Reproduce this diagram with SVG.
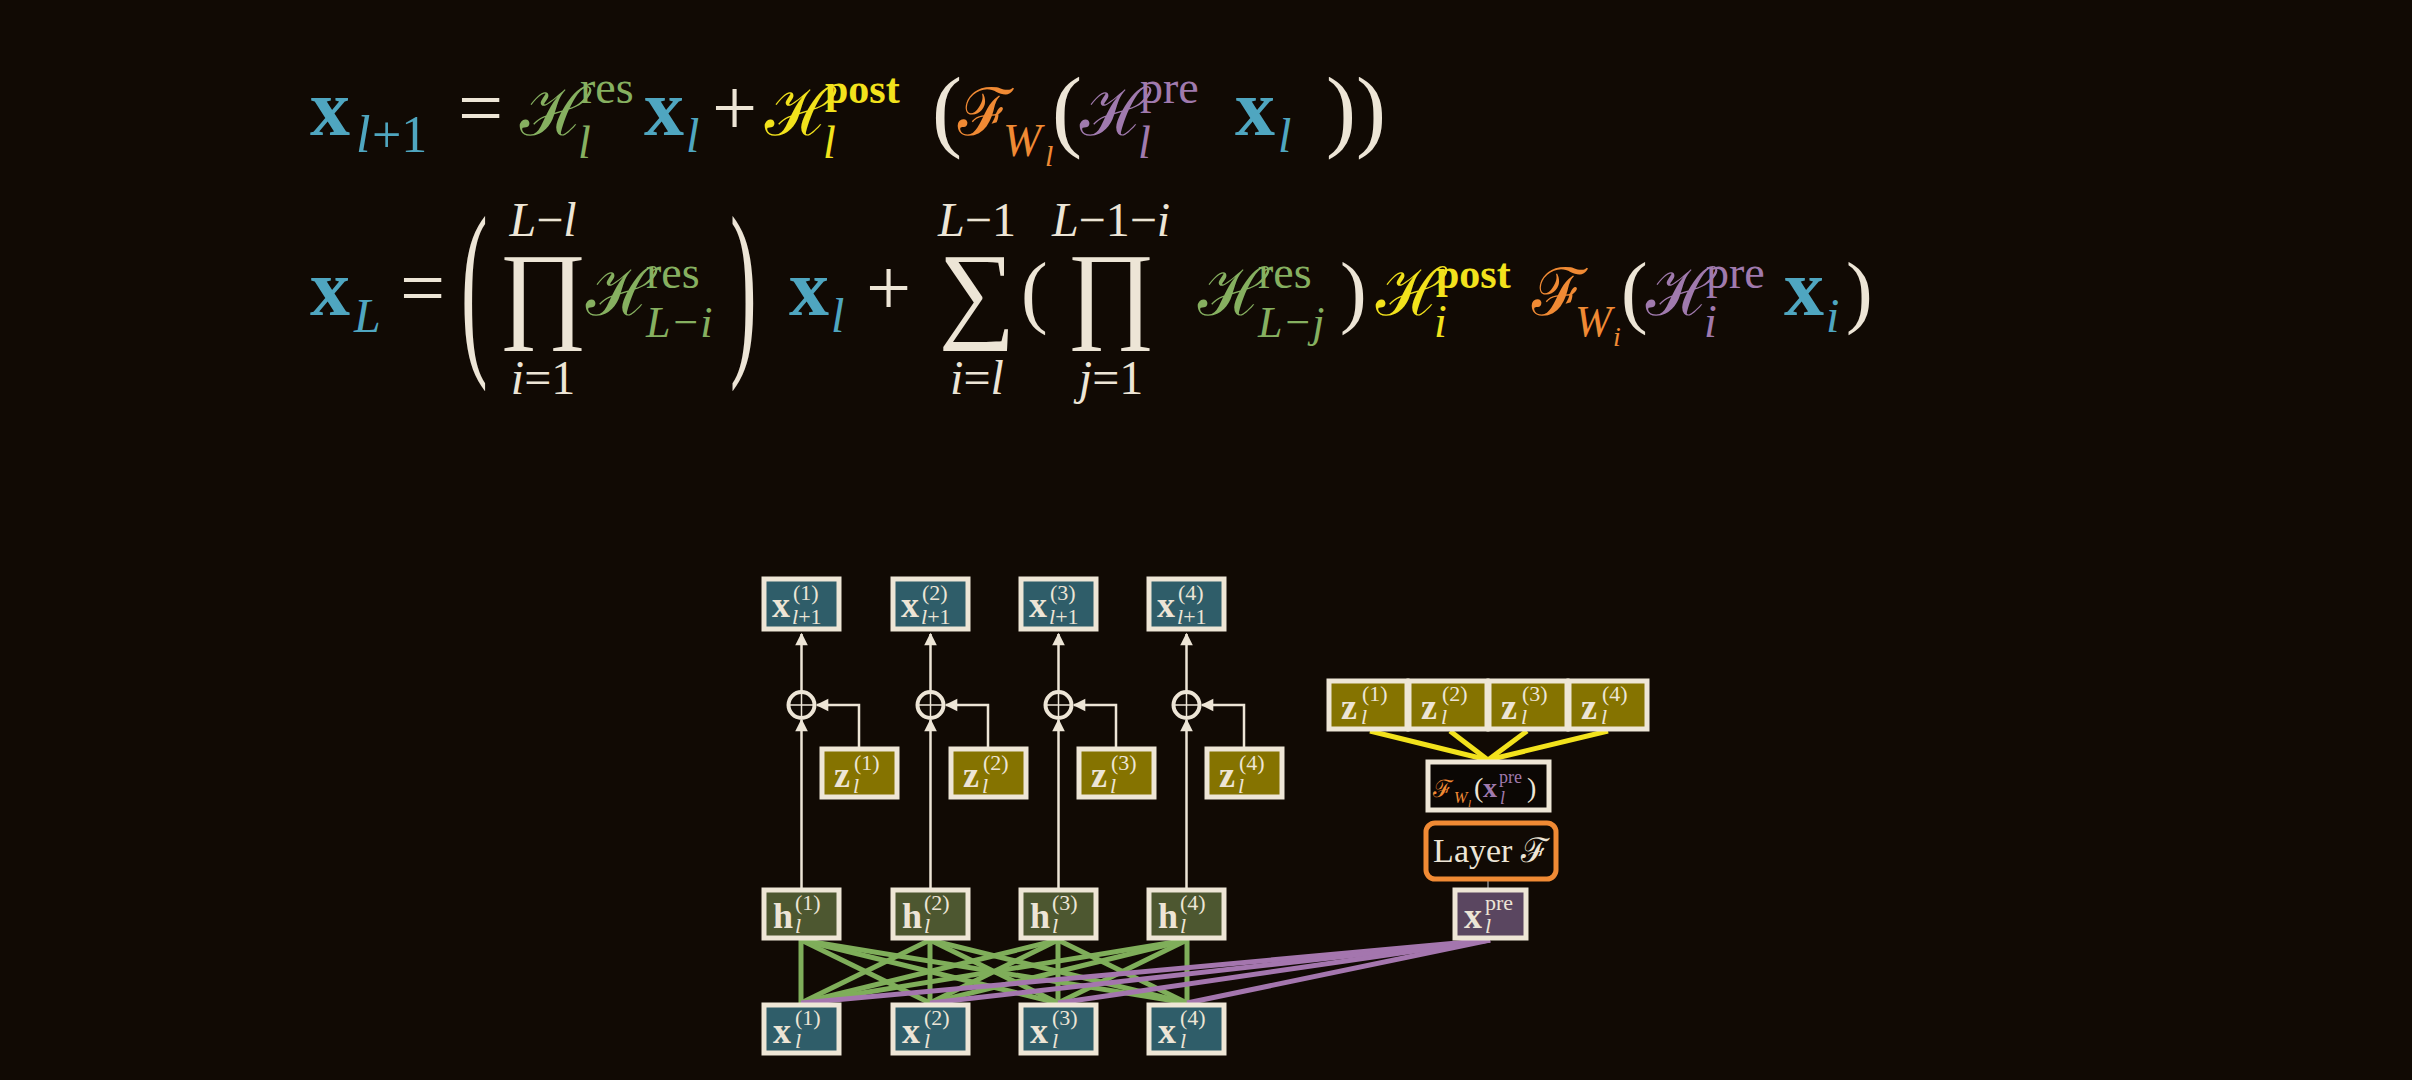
<svg xmlns="http://www.w3.org/2000/svg" width="2412" height="1080" viewBox="0 0 2412 1080">
<style>
.m{font-family:"Liberation Serif","DejaVu Serif",serif;fill:#ede5d6}
.s{font-family:"DejaVu Serif","Liberation Serif",serif}
.b{font-weight:bold}
.i{font-style:italic}
.teal{fill:#4fa6c0}.grn{fill:#86b060}.yel{fill:#f2e21c}.org{fill:#f08a34}.pur{fill:#a07aae}
.box{stroke:#eee6d6;stroke-width:5}
.bt{fill:#2f5d69}.bz{fill:#857300}.bh{fill:#4d5730}.bp{fill:#5a4660}
.lb{font-family:"Liberation Serif",serif;fill:#ede5d6}
.arr{stroke:#ede5d6;stroke-width:2.5;fill:none}
</style>
<defs>
<marker id="ah" viewBox="0 0 10 10" refX="9" refY="5" markerWidth="7" markerHeight="7" markerUnits="userSpaceOnUse" orient="auto" style="overflow:visible">
<path d="M0,0 L10,5 L0,10 z" fill="#ede5d6" transform="scale(1.8) translate(-4,-2.2)"/>
</marker>
</defs>
<rect width="2412" height="1080" fill="#110a04"/>

<g id="eq1" font-size="80">
<text class="m b teal" x="310" y="135">x</text>
<text class="m i teal" x="356" y="152" font-size="52">l</text><text class="m teal" x="372" y="152" font-size="52">+1</text>
<text class="m" x="458" y="135">=</text>
<text class="s grn" x="520" y="135" font-size="66">ℋ</text>
<text class="m grn" x="580" y="103" font-size="46">res</text>
<text class="m i grn" x="578" y="158" font-size="46">l</text>
<text class="m b teal" x="644" y="135">x</text><text class="m i teal" x="686" y="152" font-size="48">l</text>
<text class="m" x="712" y="135">+</text>
<text class="s yel" x="765" y="135" font-size="66">ℋ</text>
<text class="m b yel" x="825" y="103" font-size="42">post</text>
<text class="m i yel" x="823" y="158" font-size="46">l</text>
<text class="m" x="932" y="140" font-size="90">(</text>
<text class="s org" x="958" y="135" font-size="66">ℱ</text>
<text class="m i org" x="1003" y="156" font-size="46">W</text><text class="m i org" x="1045" y="166" font-size="30">l</text>
<text class="m" x="1052" y="140" font-size="90">(</text>
<text class="s pur" x="1080" y="135" font-size="66">ℋ</text>
<text class="m pur" x="1140" y="103" font-size="46">pre</text>
<text class="m i pur" x="1138" y="158" font-size="46">l</text>
<text class="m b teal" x="1235" y="135">x</text><text class="m i teal" x="1278" y="152" font-size="48">l</text>
<text class="m" x="1326" y="140" font-size="90">))</text>
</g>

<g id="eq2" font-size="80">
<text class="m b teal" x="310" y="315">x</text><text class="m i teal" x="354" y="332" font-size="48">L</text>
<text class="m" x="400" y="315">=</text>
<text class="m" transform="translate(461,350) scale(1,2.4)" font-size="80">(</text>
<text class="m" x="543" y="236" font-size="48" text-anchor="middle"><tspan class="i">L</tspan>−<tspan class="i">l</tspan></text>
<text class="m" x="543" y="328" font-size="108" text-anchor="middle" font-family="DejaVu Serif">∏</text>
<text class="m" x="543" y="394" font-size="48" text-anchor="middle"><tspan class="i">i</tspan>=1</text>
<text class="s grn" x="586" y="315" font-size="66">ℋ</text>
<text class="m grn" x="646" y="288" font-size="46">res</text>
<text class="m i grn" x="646" y="337" font-size="44">L−i</text>
<text class="m" transform="translate(730,350) scale(1,2.4)" font-size="80">)</text>
<text class="m b teal" x="789" y="315">x</text><text class="m i teal" x="831" y="332" font-size="48">l</text>
<text class="m" x="866" y="315">+</text>
<text class="m" x="977" y="236" font-size="48" text-anchor="middle"><tspan class="i">L</tspan>−1</text>
<text class="m" x="977" y="328" font-size="108" text-anchor="middle" font-family="DejaVu Serif">∑</text>
<text class="m" x="977" y="394" font-size="48" text-anchor="middle"><tspan class="i">i</tspan>=<tspan class="i">l</tspan></text>
<text class="m" x="1021" y="318" font-size="80">(</text>
<text class="m" x="1111" y="236" font-size="48" text-anchor="middle"><tspan class="i">L</tspan>−1−<tspan class="i">i</tspan></text>
<text class="m" x="1111" y="328" font-size="108" text-anchor="middle" font-family="DejaVu Serif">∏</text>
<text class="m" x="1111" y="394" font-size="48" text-anchor="middle"><tspan class="i">j</tspan>=1</text>
<text class="s grn" x="1198" y="315" font-size="66">ℋ</text>
<text class="m grn" x="1258" y="288" font-size="46">res</text>
<text class="m i grn" x="1258" y="337" font-size="44">L−j</text>
<text class="m" x="1340" y="318" font-size="80">)</text>
<text class="s yel" x="1376" y="315" font-size="66">ℋ</text>
<text class="m b yel" x="1436" y="288" font-size="42">post</text>
<text class="m i yel" x="1434" y="337" font-size="46">i</text>
<text class="s org" x="1532" y="315" font-size="66">ℱ</text>
<text class="m i org" x="1575" y="336" font-size="44">W</text><text class="m i org" x="1613" y="346" font-size="28">i</text>
<text class="m" x="1621" y="318" font-size="80">(</text>
<text class="s pur" x="1646" y="315" font-size="66">ℋ</text>
<text class="m pur" x="1706" y="288" font-size="46">pre</text>
<text class="m i pur" x="1704" y="337" font-size="46">i</text>
<text class="m b teal" x="1784" y="315">x</text><text class="m i teal" x="1826" y="332" font-size="48">i</text>
<text class="m" x="1846" y="318" font-size="80">)</text>
</g>

<g id="connectors">
<g stroke="#7fae5a" stroke-width="5">
<line x1="801" y1="940" x2="801" y2="1003"/><line x1="801" y1="940" x2="930" y2="1003"/><line x1="801" y1="940" x2="1058" y2="1003"/><line x1="801" y1="940" x2="1187" y2="1003"/>
<line x1="930" y1="940" x2="801" y2="1003"/><line x1="930" y1="940" x2="930" y2="1003"/><line x1="930" y1="940" x2="1058" y2="1003"/><line x1="930" y1="940" x2="1187" y2="1003"/>
<line x1="1058" y1="940" x2="801" y2="1003"/><line x1="1058" y1="940" x2="930" y2="1003"/><line x1="1058" y1="940" x2="1058" y2="1003"/><line x1="1058" y1="940" x2="1187" y2="1003"/>
<line x1="1187" y1="940" x2="801" y2="1003"/><line x1="1187" y1="940" x2="930" y2="1003"/><line x1="1187" y1="940" x2="1058" y2="1003"/><line x1="1187" y1="940" x2="1187" y2="1003"/>
</g>
<g stroke="#a476ae" stroke-width="5">
<line x1="1490" y1="940" x2="801" y2="1003"/><line x1="1490" y1="940" x2="930" y2="1003"/><line x1="1490" y1="940" x2="1058" y2="1003"/><line x1="1490" y1="940" x2="1187" y2="1003"/>
</g>
<g stroke="#f2e21c" stroke-width="5">
<line x1="1370" y1="731" x2="1488" y2="760"/><line x1="1450" y1="731" x2="1488" y2="760"/><line x1="1527" y1="731" x2="1488" y2="760"/><line x1="1608" y1="731" x2="1488" y2="760"/>
</g>
<line x1="1488" y1="880" x2="1488" y2="888" stroke="#888" stroke-width="1.5"/>
<g class="arr" marker-end="url(#ah)">
<path d="M801.5 888 V720"/><path d="M801.5 691 V634"/><path d="M859 747 V705 H817"/>
<path d="M930.5 888 V720"/><path d="M930.5 691 V634"/><path d="M988 747 V705 H946"/>
<path d="M1058.5 888 V720"/><path d="M1058.5 691 V634"/><path d="M1116 747 V705 H1074"/>
<path d="M1186.5 888 V720"/><path d="M1186.5 691 V634"/><path d="M1244 747 V705 H1202"/>
</g>
<g stroke="#ede5d6" stroke-width="4" fill="none">
<circle cx="801.5" cy="705" r="13"/><path d="M788.5 705 H814.5 M801.5 692 V718" stroke-width="1.5"/>
<circle cx="930.5" cy="705" r="13"/><path d="M917.5 705 H943.5 M930.5 692 V718" stroke-width="1.5"/>
<circle cx="1058.5" cy="705" r="13"/><path d="M1045.5 705 H1071.5 M1058.5 692 V718" stroke-width="1.5"/>
<circle cx="1186.5" cy="705" r="13"/><path d="M1173.5 705 H1199.5 M1186.5 692 V718" stroke-width="1.5"/>
</g>
</g>

<g id="xout1"><rect class="box bt" x="764" y="579" width="75" height="50"/><text class="lb b" x="772" y="617" font-size="36">x</text><text class="lb" x="793" y="600" font-size="22">(1)</text><text class="lb" x="792" y="624" font-size="22"><tspan class="i">l</tspan>+1</text></g>
<g id="xout2"><rect class="box bt" x="893" y="579" width="75" height="50"/><text class="lb b" x="901" y="617" font-size="36">x</text><text class="lb" x="922" y="600" font-size="22">(2)</text><text class="lb" x="921" y="624" font-size="22"><tspan class="i">l</tspan>+1</text></g>
<g id="xout3"><rect class="box bt" x="1021" y="579" width="75" height="50"/><text class="lb b" x="1029" y="617" font-size="36">x</text><text class="lb" x="1050" y="600" font-size="22">(3)</text><text class="lb" x="1049" y="624" font-size="22"><tspan class="i">l</tspan>+1</text></g>
<g id="xout4"><rect class="box bt" x="1149" y="579" width="75" height="50"/><text class="lb b" x="1157" y="617" font-size="36">x</text><text class="lb" x="1178" y="600" font-size="22">(4)</text><text class="lb" x="1177" y="624" font-size="22"><tspan class="i">l</tspan>+1</text></g>

<g id="z1"><rect class="box bz" x="822" y="749" width="75" height="48"/><text class="lb b" x="834" y="787" font-size="36">z</text><text class="lb" x="854" y="770" font-size="22">(1)</text><text class="lb i" x="853" y="793" font-size="22">l</text></g>
<g id="z2"><rect class="box bz" x="951" y="749" width="75" height="48"/><text class="lb b" x="963" y="787" font-size="36">z</text><text class="lb" x="983" y="770" font-size="22">(2)</text><text class="lb i" x="982" y="793" font-size="22">l</text></g>
<g id="z3"><rect class="box bz" x="1079" y="749" width="75" height="48"/><text class="lb b" x="1091" y="787" font-size="36">z</text><text class="lb" x="1111" y="770" font-size="22">(3)</text><text class="lb i" x="1110" y="793" font-size="22">l</text></g>
<g id="z4"><rect class="box bz" x="1207" y="749" width="75" height="48"/><text class="lb b" x="1219" y="787" font-size="36">z</text><text class="lb" x="1239" y="770" font-size="22">(4)</text><text class="lb i" x="1238" y="793" font-size="22">l</text></g>

<g id="h1"><rect class="box bh" x="764" y="890" width="75" height="48"/><text class="lb b" x="773" y="928" font-size="36">h</text><text class="lb" x="795" y="910" font-size="22">(1)</text><text class="lb i" x="795" y="933" font-size="22">l</text></g>
<g id="h2"><rect class="box bh" x="893" y="890" width="75" height="48"/><text class="lb b" x="902" y="928" font-size="36">h</text><text class="lb" x="924" y="910" font-size="22">(2)</text><text class="lb i" x="924" y="933" font-size="22">l</text></g>
<g id="h3"><rect class="box bh" x="1021" y="890" width="75" height="48"/><text class="lb b" x="1030" y="928" font-size="36">h</text><text class="lb" x="1052" y="910" font-size="22">(3)</text><text class="lb i" x="1052" y="933" font-size="22">l</text></g>
<g id="h4"><rect class="box bh" x="1149" y="890" width="75" height="48"/><text class="lb b" x="1158" y="928" font-size="36">h</text><text class="lb" x="1180" y="910" font-size="22">(4)</text><text class="lb i" x="1180" y="933" font-size="22">l</text></g>

<g id="x1"><rect class="box bt" x="764" y="1005" width="75" height="48"/><text class="lb b" x="773" y="1043" font-size="36">x</text><text class="lb" x="795" y="1025" font-size="22">(1)</text><text class="lb i" x="795" y="1048" font-size="22">l</text></g>
<g id="x2"><rect class="box bt" x="893" y="1005" width="75" height="48"/><text class="lb b" x="902" y="1043" font-size="36">x</text><text class="lb" x="924" y="1025" font-size="22">(2)</text><text class="lb i" x="924" y="1048" font-size="22">l</text></g>
<g id="x3"><rect class="box bt" x="1021" y="1005" width="75" height="48"/><text class="lb b" x="1030" y="1043" font-size="36">x</text><text class="lb" x="1052" y="1025" font-size="22">(3)</text><text class="lb i" x="1052" y="1048" font-size="22">l</text></g>
<g id="x4"><rect class="box bt" x="1149" y="1005" width="75" height="48"/><text class="lb b" x="1158" y="1043" font-size="36">x</text><text class="lb" x="1180" y="1025" font-size="22">(4)</text><text class="lb i" x="1180" y="1048" font-size="22">l</text></g>

<g id="zrow1"><rect class="box bz" x="1329" y="681" width="78" height="48"/><text class="lb b" x="1341" y="719" font-size="36">z</text><text class="lb" x="1362" y="701" font-size="22">(1)</text><text class="lb i" x="1361" y="724" font-size="22">l</text></g>
<g id="zrow2"><rect class="box bz" x="1409" y="681" width="78" height="48"/><text class="lb b" x="1421" y="719" font-size="36">z</text><text class="lb" x="1442" y="701" font-size="22">(2)</text><text class="lb i" x="1441" y="724" font-size="22">l</text></g>
<g id="zrow3"><rect class="box bz" x="1489" y="681" width="78" height="48"/><text class="lb b" x="1501" y="719" font-size="36">z</text><text class="lb" x="1522" y="701" font-size="22">(3)</text><text class="lb i" x="1521" y="724" font-size="22">l</text></g>
<g id="zrow4"><rect class="box bz" x="1569" y="681" width="78" height="48"/><text class="lb b" x="1581" y="719" font-size="36">z</text><text class="lb" x="1602" y="701" font-size="22">(4)</text><text class="lb i" x="1601" y="724" font-size="22">l</text></g>

<g id="fw"><rect class="box" fill="#0b0704" x="1428" y="762" width="121" height="48"/>
<text class="s" style="fill:#f08a34" x="1433" y="797" font-size="24">ℱ</text><text class="lb i" style="fill:#f08a34" x="1454" y="803" font-size="16">W</text><text class="lb i" style="fill:#f08a34" x="1468" y="807" font-size="11">l</text>
<text class="lb" x="1474" y="797" font-size="28">(</text><text class="lb b" style="fill:#a07aae" x="1483" y="797" font-size="28">x</text><text class="lb" style="fill:#a07aae" x="1499" y="783" font-size="18">pre</text><text class="lb i" style="fill:#a07aae" x="1500" y="804" font-size="18">l</text><text class="lb" x="1527" y="797" font-size="28">)</text></g>

<g id="layer"><rect x="1426" y="823" width="130" height="56" rx="9" fill="#110a04" stroke="#f08a34" stroke-width="5"/>
<text class="lb" x="1491" y="862" font-size="34" text-anchor="middle">Layer <tspan font-family="DejaVu Serif">ℱ</tspan></text></g>

<g id="xpre"><rect class="box bp" x="1455" y="890" width="71" height="48"/><text class="lb b" x="1464" y="928" font-size="36">x</text><text class="lb" x="1485" y="910" font-size="22">pre</text><text class="lb i" x="1485" y="933" font-size="22">l</text></g>
</svg>
